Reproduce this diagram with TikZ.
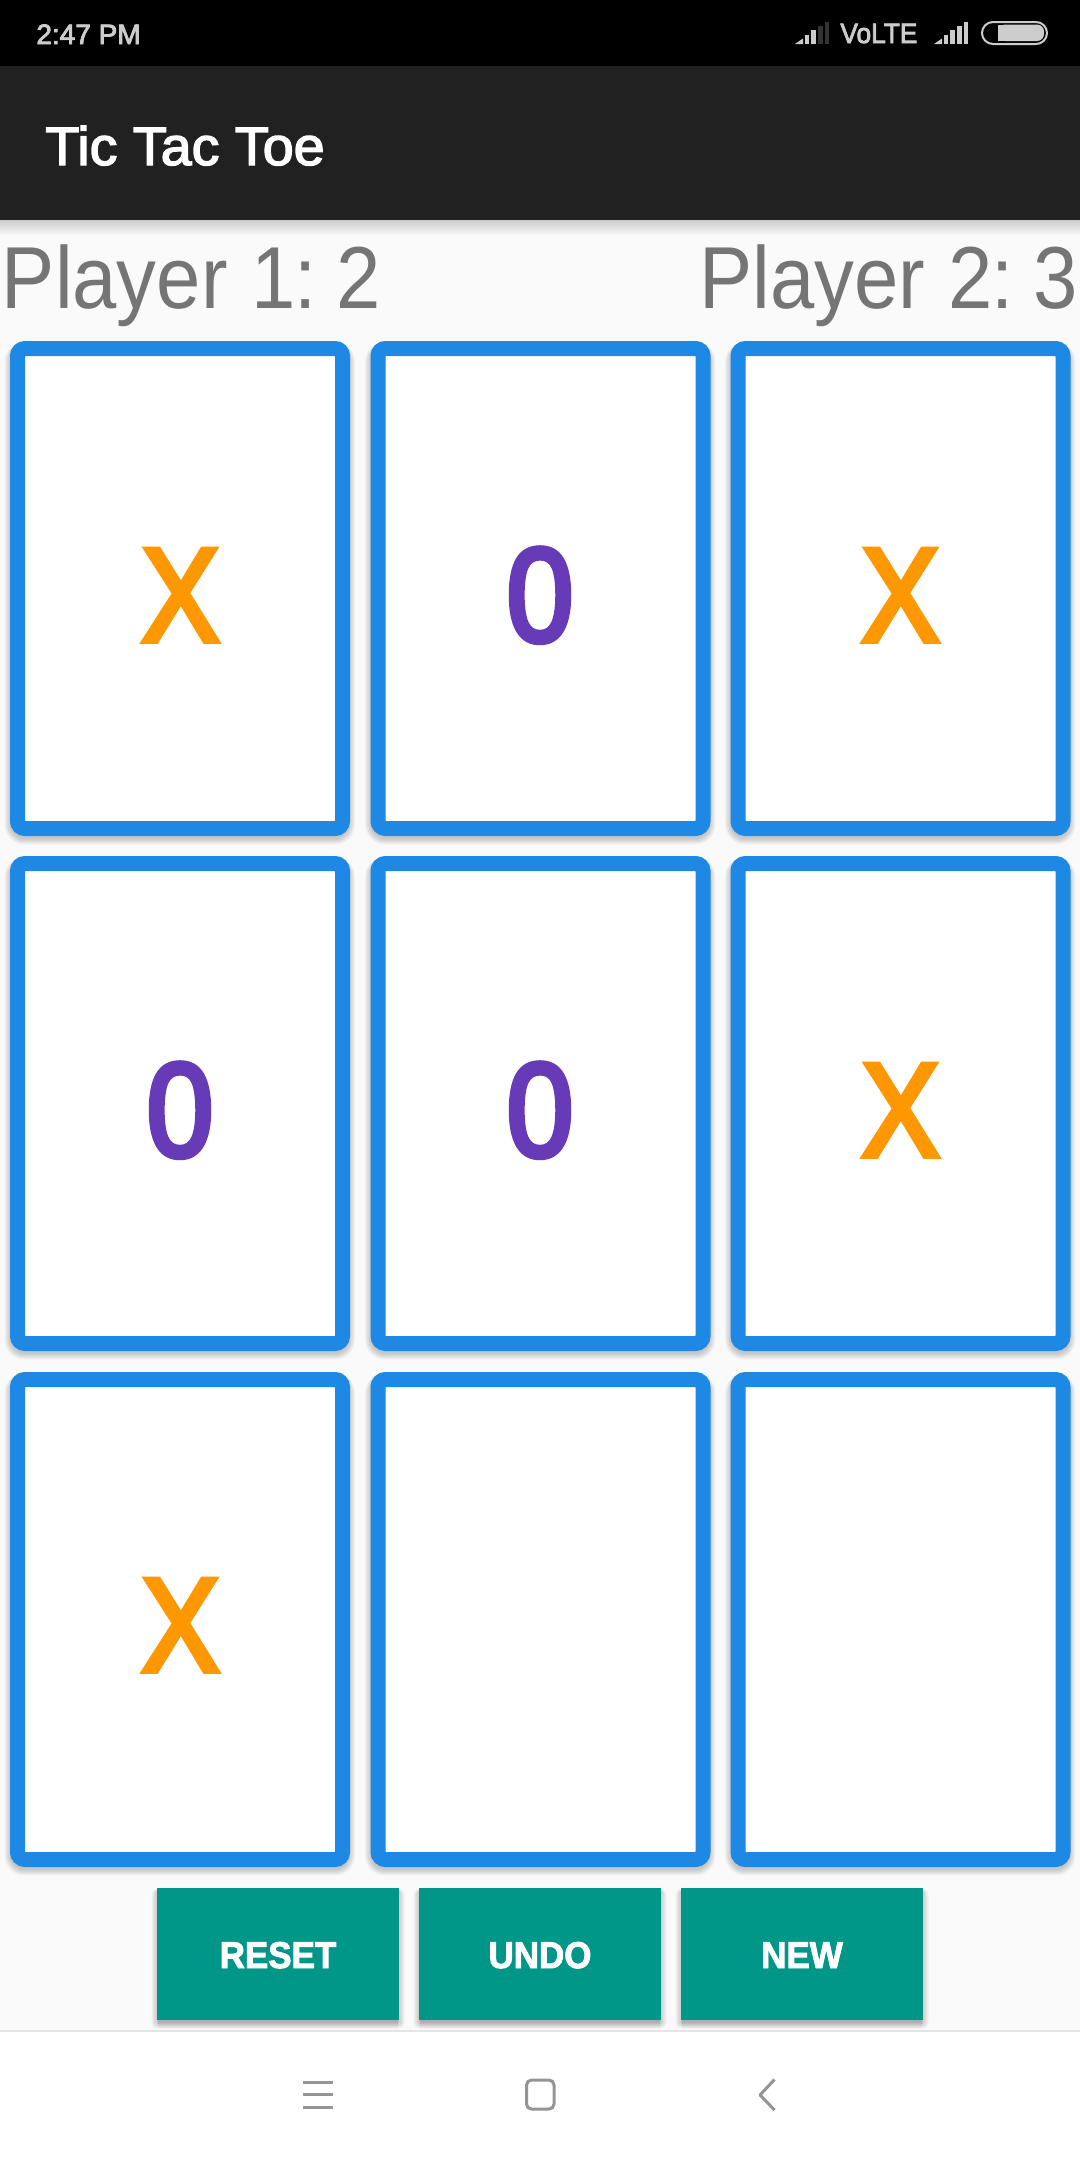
\documentclass[tikz,border=0pt]{standalone}
\usepackage{fontspec}
\setmainfont{Liberation Sans}
\font\medmark="Liberation Sans:embolden=4.4" at 66.5pt
\font\medtitle="Liberation Sans:embolden=2.6" at 27pt
\font\medclock="Liberation Sans:embolden=3" at 14pt
\font\medbtn="Liberation Sans/B:embolden=2.5" at 18.6pt
\usetikzlibrary{calc}
\definecolor{cblue}{HTML}{1E88E5}
\definecolor{corange}{HTML}{FF9800}
\definecolor{cpurple}{HTML}{673AB7}
\definecolor{cteal}{HTML}{009688}
\definecolor{cbar}{HTML}{212121}
\definecolor{cbg}{HTML}{FAFAFA}
\definecolor{cscore}{HTML}{757575}
\definecolor{cstat}{HTML}{CCCCCC}
\definecolor{cdim}{HTML}{333333}
\definecolor{cnav}{HTML}{949494}
\newcommand{\softshadow}[5]{%
  \foreach \i in {0,1,...,5}{%
    \fill[black,opacity=0.035,rounded corners=#5*0.5pt+\i*0.5pt]
      (#1-\i*1.1,#2-\i*0.4+3) rectangle (#3+\i*1.1,#4+\i*1.1+3);
  }}
\newcommand{\sigbars}[2]{% x left, colour of last two bars
  \fill[cstat] (#1,44) -- (#1+8,44) -- (#1+8,38.5) -- cycle;
  \fill[cstat] (#1+10,44) rectangle (#1+14,35);
  \fill[cstat] (#1+16,44) rectangle (#1+21,30);
  \fill[#2] (#1+23,44) rectangle (#1+28,26);
  \fill[#2] (#1+29.5,44) rectangle (#1+34,22);
}
\tikzset{
  cellbox/.style={draw=cblue,fill=white,line width=7.5pt,rounded corners=3.75pt,
    minimum width=162.5pt,minimum height=240pt,inner sep=0pt,outer sep=0pt,anchor=north west},
  btnbox/.style={fill=cteal,text=white,minimum width=121pt,minimum height=66pt,inner sep=0pt,
    outer sep=0pt,anchor=north west,font=\medbtn,text height=14pt,text depth=0pt},
  xmark/.style={anchor=base,text=corange,inner sep=0pt,font=\medmark},
  omark/.style={anchor=base,text=cpurple,inner sep=0pt,font=\medmark},
  score/.style={anchor=base west,text=cscore,inner sep=0pt,font=\fontsize{44}{44}\selectfont},
  navline/.style={draw=cnav,line width=1.5pt},
}
\begin{document}
\begin{tikzpicture}[x=0.5pt,y=-0.5pt]
\useasboundingbox (0,0) rectangle (1080,2160);
\fill[cbg] (0,0) rectangle (1080,2160);
% app bar shadow
\foreach \i in {0,1,...,7}{\fill[black,opacity=0.022] (0,220) rectangle (1080,221+\i*2);}
\fill[black] (0,0) rectangle (1080,66);
\fill[cbar] (0,66) rectangle (1080,220);
% status bar
\node[anchor=base west,text=cstat,inner sep=0pt,font=\medclock] (clock) at (36,44) {2:47 PM};
\sigbars{795}{cdim}
\node[anchor=base west,text=cstat,inner sep=0pt,font=\medclock] (volte) at (840,43) {\scalebox{0.94}[1]{VoLTE}};
\sigbars{934}{cstat}
\draw[cstat,line width=1pt,rounded corners=5.5pt] (982,22) rectangle (1047,44);
\fill[cstat,rounded corners=3.5pt] (998,24.5) -- (1044,24.5) -- (1044,41) -- (998,41) -- cycle;
\fill[cstat] (998,24.5) rectangle (1005,41);
% title and scores
\node[anchor=base west,text=white,inner sep=0pt,font=\medtitle] (title) at (45,165) {\scalebox{1.03}[1]{Tic Tac Toe}};
\node[score] (p1) at (1.5,308) {\scalebox{0.905}[1]{Player\kern1pt\ 1\kern-1pt:\kern-1pt\ 2}};
\node[score] (p2) at (699,308) {\scalebox{0.905}[1]{Player\kern1pt\ 2\kern-1pt:\kern-1pt\ 3}};
% cards
\foreach \cx/\cn in {10/a,370.5/b,730.5/c}{
  \foreach \ry/\rn in {341/1,856/2,1372/3}{
    \softshadow{\cx}{\ry}{\cx+339.5}{\ry+495}{15}
    \node[cellbox] (\cn\rn) at (\cx+7.5,\ry+7.5) {};
  }
}
% marks
\node[xmark] (ma1) at (180.5,641) {\scalebox{0.875}[1]{X}};
\node[omark] (mb1) at (540,641) {\scalebox{0.90}[1]{0}};
\node[xmark] (mc1) at (900.5,641) {\scalebox{0.875}[1]{X}};
\node[omark] (ma2) at (180,1156) {\scalebox{0.90}[1]{0}};
\node[omark] (mb2) at (540,1156) {\scalebox{0.90}[1]{0}};
\node[xmark] (mc2) at (900.5,1156) {\scalebox{0.875}[1]{X}};
\node[xmark] (ma3) at (180.5,1671) {\scalebox{0.875}[1]{X}};
% buttons
\foreach \bx in {157,419,681}{
  \softshadow{\bx}{1888}{\bx+242}{2020}{1}
  \foreach \j in {1,2,3,4}{\fill[black,opacity=0.03] (\bx+1,2020) rectangle (\bx+241,2020+\j*2);}
}
\node[btnbox] (reset) at (157,1888) {\scalebox{0.94}[1]{RESET}};
\node[btnbox] (undo) at (419,1888) {\scalebox{0.94}[1]{UNDO}};
\node[btnbox] (new) at (681,1888) {\scalebox{0.94}[1]{NEW}};
% nav bar
\fill[white] (0,2030) rectangle (1080,2160);
\fill[black!10] (0,2030) rectangle (1080,2031.5);
\draw[navline] (303,2082) -- (333,2082);
\draw[navline] (303,2094.5) -- (333,2094.5);
\draw[navline] (303,2107) -- (333,2107);
\draw[navline,rounded corners=2.5pt] (526.5,2080) rectangle (554,2109);
\draw[navline,line join=round] (774.5,2079.5) -- (760,2095) -- (774.5,2110);
\end{tikzpicture}
\end{document}
